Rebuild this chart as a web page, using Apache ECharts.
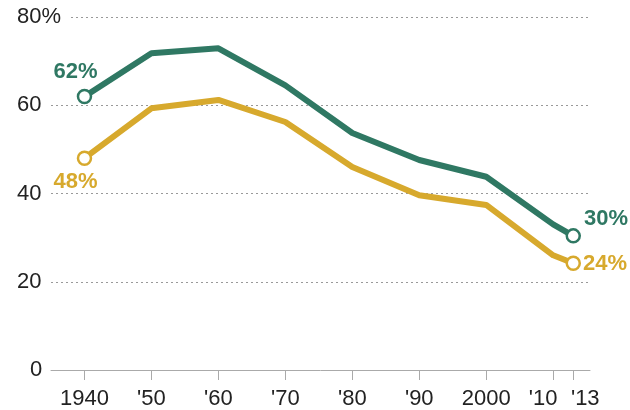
<!DOCTYPE html>
<html>
<head>
<meta charset="utf-8">
<script src="https://cdn.jsdelivr.net/npm/echarts@6/dist/echarts.min.js"></script>
<style>
  html, body { margin: 0; padding: 0; background: #fff; }
  #main { width: 630px; height: 410px; }
</style>
</head>
<body>
<div id="main"></div>
<script>
// years on the x axis (2010 has no label of its own in the series ends)
var years = [1940, 1950, 1960, 1970, 1980, 1990, 2000, 2010, 2013];
var tickYears = [1940, 1950, 1960, 1970, 1980, 1990, 2000, 2010, 2013];
var greenValues = [62, 71.8, 72.9, 64.5, 53.7, 47.6, 43.8, 33, 30.4];
var goldValues = [48, 59.3, 61.2, 56.2, 46, 39.6, 37.4, 26, 24.2];
var yTicks = [0, 20, 40, 60, 80];

var GREEN = "#2f7863";
var GOLD = "#d7a92d";
var FONT = "Liberation Sans";

function buildData(values, firstLabel, lastLabel) {
  return years.map(function (y, i) {
    var item = { value: [y, values[i]] };
    if (i === 0 || i === years.length - 1) {
      item.symbol = "circle";
      item.label = Object.assign({ show: true }, i === 0 ? firstLabel : lastLabel);
    } else {
      item.symbol = "none";
    }
    return item;
  });
}

function endLabel(v) {
  return Math.round(v[1]) + "%";
}

var chart = echarts.init(document.getElementById("main"));
chart.setOption({
  animation: false,
  grid: { left: 51, right: 40, top: 17, bottom: 40 },
  xAxis: {
    type: "value",
    min: 1935,
    max: 2015.5,
    splitLine: { show: false },
    axisLine: { show: true, lineStyle: { color: "#aaa", width: 1 } },
    axisTick: {
      show: true,
      length: 10,
      customValues: tickYears,
      lineStyle: { color: "#aaa" }
    },
    axisLabel: {
      customValues: tickYears,
      margin: 18,
      color: "#222",
      fontFamily: FONT,
      fontSize: 22,
      formatter: function (v) {
        if (v === 1940 || v === 2000) return String(v);
        var s = "'" + String(v).slice(2);
        if (v === 2010) return "{l|" + s + "}";
        if (v === 2013) return "{r|" + s + "}";
        return s;
      },
      rich: {
        l: { fontFamily: FONT, fontSize: 22, color: "#222", padding: [0, 20, 0, 0] },
        r: { fontFamily: FONT, fontSize: 22, color: "#222", padding: [0, 0, 0, 24] }
      }
    }
  },
  yAxis: {
    type: "value",
    min: 0,
    max: 80,
    interval: 20,
    axisLine: { show: false },
    axisTick: { show: false },
    splitLine: {
      show: true,
      lineStyle: { color: "#999", type: [2, 3], width: 1 }
    },
    axisLabel: {
      align: "left",
      margin: 34,
      color: "#222",
      fontFamily: FONT,
      fontSize: 22,
      formatter: function (v) {
        if (v === 80) return "{w|80%}";
        if (v === 0) return "{s| }0";
        return String(v);
      },
      rich: {
        w: { fontFamily: FONT, fontSize: 22, color: "#222", backgroundColor: "#fff", padding: [0, 7, 0, 0] },
        s: { width: 13 }
      }
    }
  },
  series: [
    {
      name: "green",
      type: "line",
      color: GREEN,
      symbolSize: 13,
      itemStyle: { color: "#fff", borderColor: GREEN, borderWidth: 2.5 },
      lineStyle: { color: GREEN, width: 6, cap: "round", join: "round" },
      z: 3,
      label: {
        color: GREEN,
        fontFamily: FONT,
        fontWeight: "bold",
        fontSize: 22,
        formatter: function (p) { return endLabel(p.value); }
      },
      data: buildData(greenValues,
        { position: "top", distance: 6, offset: [-9, 0] },
        { position: "right", distance: 3, offset: [0, -17] })
    },
    {
      name: "gold",
      type: "line",
      color: GOLD,
      symbolSize: 13,
      itemStyle: { color: "#fff", borderColor: GOLD, borderWidth: 2.5 },
      lineStyle: { color: GOLD, width: 6, cap: "round", join: "round" },
      z: 2,
      label: {
        color: GOLD,
        fontFamily: FONT,
        fontWeight: "bold",
        fontSize: 22,
        formatter: function (p) { return endLabel(p.value); }
      },
      data: buildData(goldValues,
        { position: "bottom", distance: 5, offset: [-9, 0] },
        { position: "right", distance: 2, offset: [0, 1] })
    }
  ]
});
</script>
</body>
</html>
